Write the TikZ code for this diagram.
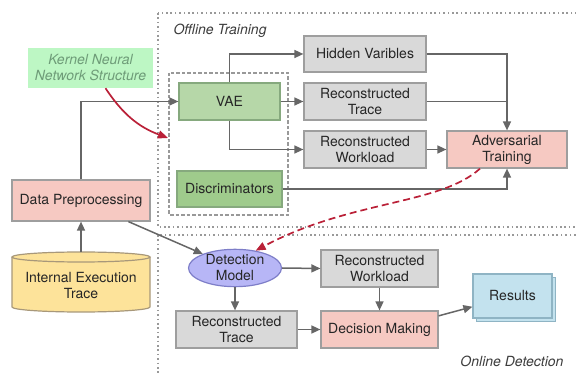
\documentclass[tikz,border=0pt]{standalone}
\usepackage{fontspec}
\setmainfont{TeX Gyre Heros}
\usetikzlibrary{arrows.meta,shapes.geometric,shadows,calc}

\definecolor{boxgray}{HTML}{D9D9D9}
\definecolor{edgegray}{HTML}{9E9E9E}
\definecolor{wiregray}{HTML}{666666}
\definecolor{vaegreen}{HTML}{B6D7A8}
\definecolor{discgreen}{HTML}{9FCB8C}
\definecolor{greenedge}{HTML}{86A97E}
\definecolor{salmon}{HTML}{F6C9C2}
\definecolor{mint}{HTML}{BDF7C4}
\definecolor{minttext}{HTML}{6E9C78}
\definecolor{lavender}{HTML}{B7B6F6}
\definecolor{lavedge}{HTML}{7E7EC8}
\definecolor{skyblue}{HTML}{C3E2EE}
\definecolor{skyedge}{HTML}{8FB4C4}
\definecolor{cream}{HTML}{FDE39A}
\definecolor{creamedge}{HTML}{A8987A}
\definecolor{darkred}{HTML}{BA2138}
\definecolor{inktext}{HTML}{262626}

\tikzset{
  blk/.style={draw=edgegray, line width=1.2pt, fill=boxgray, align=center,
    inner sep=0pt, text=inktext},
  graybox/.style={blk, minimum width=122, minimum height=37},
  wire/.style={draw=wiregray, line width=1.5pt,
    -{Triangle[length=9pt,width=8pt]}},
  plainwire/.style={draw=wiregray, line width=1.5pt},
  region/.style={draw=gray!80, line width=1.4pt, dash pattern=on 1.6pt off 2.8pt},
  kernelzone/.style={draw=gray!80, line width=1.2pt, dash pattern=on 3.5pt off 2pt},
  redlink/.style={draw=darkred, line width=1.7pt,
    -{Triangle[length=10pt,width=8pt]}},
  caption/.style={font=\fontsize{14}{16}\selectfont\itshape, text=inktext!90}
}

\begin{document}
\begin{tikzpicture}[x=1pt, y=-1pt, font=\fontsize{14}{16}\selectfont]
\useasboundingbox (0,0) rectangle (576,374);
\clip (0,0) rectangle (576,374);

% stage regions
\draw[region] (158,13) rectangle (600,227);
\draw[region] (158,235) rectangle (600,400);
\node[caption, anchor=base west] (offcap) at (170,35) {Offline Training};
\node[caption, anchor=base east] (oncap) at (567,366) {Online Detection};

% kernel network group
\draw[kernelzone] (169,73) rectangle (288,215);
\node[fill=mint, minimum width=125, minimum height=40, inner sep=0pt,
  align=center, text=minttext, font=\fontsize{14}{16}\selectfont\itshape]
  (kern) at (90.5,68) {Kernel Neural\\Network Structure};

% offline training blocks
\node[blk, fill=vaegreen, draw=greenedge, minimum width=101, minimum height=37]
  (vae) at (229.5,101.5) {VAE};
\node[blk, fill=discgreen, draw=greenedge, minimum width=105, minimum height=36]
  (disc) at (229.5,189) {Discriminators};
\node[graybox, minimum height=36] (hid) at (365,54) {Hidden Varibles};
\node[graybox] (rtr) at (365,101.5) {Reconstructed\\Trace};
\node[graybox] (rwl) at (365,149.5) {Reconstructed\\Workload};
\node[blk, fill=salmon, minimum width=120, minimum height=37]
  (adv) at (507,149.5) {Adversarial\\Training};

% input side
\node[blk, fill=salmon, minimum width=138, minimum height=41]
  (prep) at (81,200.5) {Data Preprocessing};
\fill[cream] (12,257) -- (12,307)
  arc[start angle=180, end angle=360, x radius=69pt, y radius=5pt]
  -- (150,257) -- cycle;
\draw[creamedge, line width=1.2pt] (12,257) -- (12,307)
  arc[start angle=180, end angle=360, x radius=69pt, y radius=5pt]
  -- (150,257);
\draw[creamedge, line width=1.2pt, fill=cream] (81,257) ellipse[x radius=69pt, y radius=5pt];
\node[align=center, text=inktext] (iet) at (81,286) {Internal Execution\\Trace};
\coordinate (ietop) at (81,252);

% online detection blocks
\node[ellipse, draw=lavedge, line width=1.2pt, fill=lavender, minimum width=93,
  minimum height=37, inner sep=0pt, align=center, text=inktext]
  (det) at (235,268) {Detection\\Model};
\node[graybox, minimum width=117] (rwl2) at (379.5,268.5) {Reconstructed\\Workload};
\node[graybox, minimum width=121] (rtr2) at (236.5,329.5) {Reconstructed\\Trace};
\node[blk, fill=salmon, minimum width=117, minimum height=37]
  (dec) at (379.5,329.5) {Decision Making};
\node[blk, fill=skyblue, draw=skyedge, minimum width=79, minimum height=44,
  copy shadow={shadow xshift=3.5pt, shadow yshift=-3.5pt, fill=skyblue, draw=skyedge}]
  (res) at (512.5,296) {Results};

% offline wiring
\draw[wire] (prep.north) |- (vae.west);
\draw[wire] (vae.north) |- (hid.west);
\draw[wire] (vae.east) -- (rtr.west);
\draw[wire] (vae.south) |- (rwl.west);
\draw[wire] (hid.east) -| (adv.north);
\draw[plainwire] (rtr.east) -| (adv.north |- rtr.east);
\draw[wire] (rwl.east) -- (adv.west);
\draw[wire] (disc.east) -| (adv.south);

% input wiring
\draw[wire] (ietop) -- (prep.south);
\draw[wire] (prep.-24) -- (det);

% online wiring
\draw[wire] (det.east) -- (rwl2.west);
\draw[wire] (det.south) -- (rtr2.north -| det.south);
\draw[wire] (rwl2.south) -- (dec.north);
\draw[wire] (rtr2.east) -- (dec.west);
\draw[wire] (dec.13) -- (res.195);

% red links
\coordinate (kernin) at (168,138);
\draw[redlink] ($(kern.south)+(15,0)$) to[bend right=18] (kernin);
\draw[redlink, dash pattern=on 7pt off 4pt] ($(adv.south)+(-27,0)$)
  .. controls (440,205) and (350,200) .. (det.40);
\end{tikzpicture}
\end{document}
